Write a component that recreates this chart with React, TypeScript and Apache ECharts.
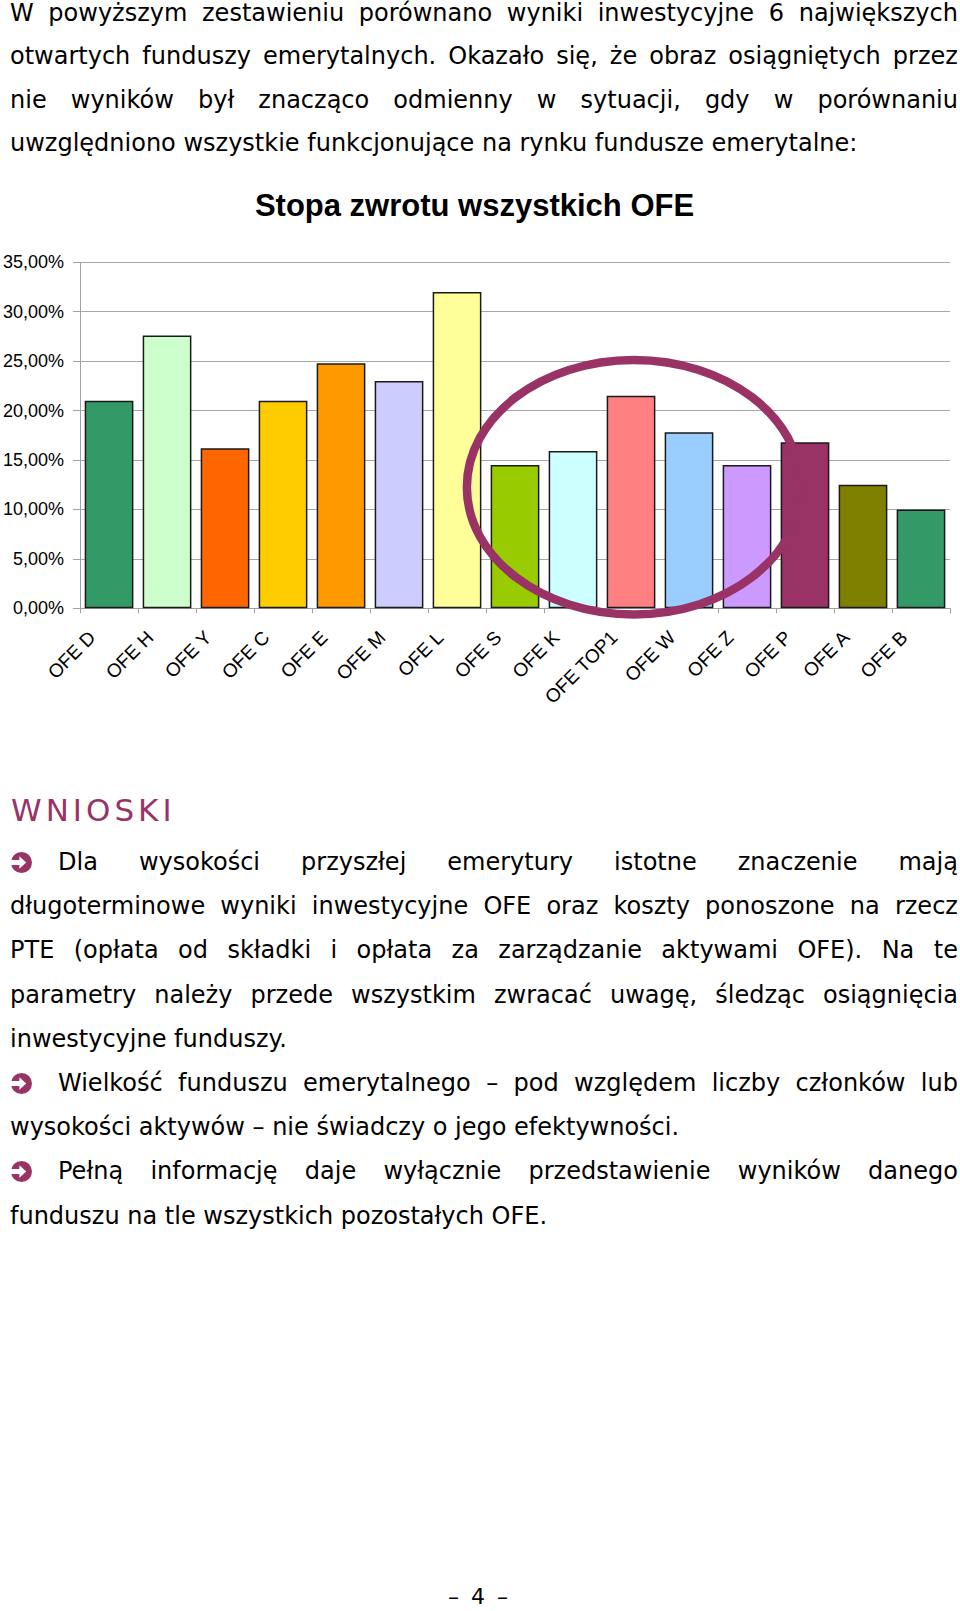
import React, { useEffect, useRef } from 'react';
import * as echarts from 'echarts';

// ---- chart data ----
const categories = ['OFE D', 'OFE H', 'OFE Y', 'OFE C', 'OFE E', 'OFE M', 'OFE L', 'OFE S', 'OFE K', 'OFE TOP1', 'OFE W', 'OFE Z', 'OFE P', 'OFE A', 'OFE B'];
const returnsPct = [21.0, 27.6, 16.2, 21.0, 24.8, 23.0, 32.0, 14.5, 15.9, 21.5, 17.8, 14.5, 16.8, 12.5, 10.0];
const barColors = ['#339966', '#CCFFCC', '#FF6600', '#FFCC00', '#FF9900', '#CCCCFF', '#FFFF99', '#99CC00', '#CCFFFF', '#FF8080', '#99CCFF', '#CC99FF', '#993366', '#808000', '#339966'];
const yMin = 0;
const yMax = 35;
const yStep = 5;
const chartTitle = 'Stopa zwrotu wszystkich OFE';
// highlight ellipse, in data units (category index / percent)
const ringCenterCategory = 'OFE TOP1';
const ringCenterShift = 0.05;
const ringCenterValue = 12.25;
const ringHalfWidthCats = 2.88;
const ringHalfHeightValue = 12.87;

// ---- page text ----
const introLines = [
  'W powyższym zestawieniu porównano wyniki inwestycyjne 6 największych',
  'otwartych funduszy emerytalnych. Okazało się, że obraz osiągniętych przez',
  'nie wyników był znacząco odmienny w sytuacji, gdy w porównaniu',
  'uwzględniono wszystkie funkcjonujące na rynku fundusze emerytalne:',
];
const introJustified = [true, true, true, false];
const heading = 'WNIOSKI';
const bulletLines = [
  'Dla wysokości przyszłej emerytury istotne znaczenie mają',
  'długoterminowe wyniki inwestycyjne OFE oraz koszty ponoszone na rzecz',
  'PTE (opłata od składki i opłata za zarządzanie aktywami OFE). Na te',
  'parametry należy przede wszystkim zwracać uwagę, śledząc osiągnięcia',
  'inwestycyjne funduszy.',
  'Wielkość funduszu emerytalnego – pod względem liczby członków lub',
  'wysokości aktywów – nie świadczy o jego efektywności.',
  'Pełną informację daje wyłącznie przedstawienie wyników danego',
  'funduszu na tle wszystkich pozostałych OFE.',
];
const bulletJustified = [true, true, true, true, false, true, false, true, false];
const bulletStarts = [true, false, false, false, false, true, false, true, false];
const pageNumber = '– 4 –';

const BODY_FONT = '"DejaVu Sans", Verdana, sans-serif';
const CHART_FONT = '"Liberation Sans", Arial, sans-serif';
const PURPLE = '#993366';

const CHART_TOP = 170;
const CHART_H = 550;

function Line(props: { text: string; left: number; right: number; cy: number; justify: boolean }) {
  const { text, left, right, cy, justify } = props;
  const words = text.split(' ');
  return (
    <div
      style={{
        position: 'absolute',
        left,
        width: right - left,
        top: cy - 22,
        height: 44,
        lineHeight: '44px',
        fontFamily: BODY_FONT,
        fontSize: 24,
        color: '#000',
        whiteSpace: 'pre',
        display: justify ? 'flex' : 'block',
        justifyContent: 'space-between',
      }}
    >
      {justify ? words.map((w, i) => <span key={i}>{w}</span>) : text}
    </div>
  );
}

function Bullet(props: { cy: number }) {
  return (
    <svg
      width={21}
      height={21}
      viewBox="0 0 20 20"
      style={{ position: 'absolute', left: 11, top: props.cy - 10.5 }}
    >
      <circle cx={10} cy={10} r={10} fill={PURPLE} />
      <rect x={-1} y={7.6} width={9.5} height={4.8} fill="#fff" />
      <polygon points="8,4 14.5,10 8,16" fill="#fff" />
    </svg>
  );
}

function Chart() {
  const ref = useRef<HTMLDivElement>(null);
  useEffect(() => {
    if (!ref.current) return;
    const chart = echarts.init(ref.current, null, { renderer: 'svg' });
    chart.setOption({
      animation: false,
      backgroundColor: 'transparent',
      grid: { left: 80, right: 10, top: 262.3 - CHART_TOP, bottom: CHART_TOP + CHART_H - 608.3, containLabel: false },
      xAxis: {
        type: 'category',
        data: categories,
        axisLine: { show: true, lineStyle: { color: '#a0a0a0', width: 1 } },
        axisTick: { show: true, length: 5, interval: 0, lineStyle: { color: '#a0a0a0' } },
        axisLabel: {
          interval: 0,
          rotate: 45,
          fontSize: 19,
          color: '#000',
          fontFamily: CHART_FONT,
          margin: 9,
          padding: [0, 24, 0, 0],
        },
        splitLine: { show: false },
      },
      yAxis: {
        type: 'value',
        min: yMin,
        max: yMax,
        interval: yStep,
        axisLine: { show: true, lineStyle: { color: '#a0a0a0', width: 1 } },
        axisTick: { show: true, length: 7, lineStyle: { color: '#a0a0a0' } },
        axisLabel: {
          fontSize: 18,
          color: '#000',
          fontFamily: CHART_FONT,
          margin: 16,
          formatter: (v: number) => v.toFixed(2).replace('.', ',') + '%',
        },
        splitLine: { show: true, lineStyle: { color: '#a8a8a8', width: 1 } },
      },
      series: [
        {
          type: 'bar',
          data: returnsPct.map((v, i) => ({ value: v, itemStyle: { color: barColors[i] } })),
          barCategoryGap: '16%',
          itemStyle: { borderColor: '#1a1a1a', borderWidth: 1.5 },
        },
      ],
    });
    const idx = categories.indexOf(ringCenterCategory);
    const x0 = chart.convertToPixel({ xAxisIndex: 0 }, idx) as number;
    const x1 = chart.convertToPixel({ xAxisIndex: 0 }, idx + 1) as number;
    const cw = x1 - x0;
    const cy = chart.convertToPixel({ yAxisIndex: 0 }, ringCenterValue) as number;
    const yZero = chart.convertToPixel({ yAxisIndex: 0 }, 0) as number;
    const yH = chart.convertToPixel({ yAxisIndex: 0 }, ringHalfHeightValue) as number;
    chart.setOption({
      graphic: [
        {
          id: 'title',
          type: 'text',
          x: 474.5,
          y: 205.6 - CHART_TOP,
          style: {
            text: chartTitle,
            fontSize: 31,
            fontWeight: 'bold',
            fontFamily: CHART_FONT,
            fill: '#000',
            textAlign: 'center',
            textVerticalAlign: 'middle',
          },
        },
        {
          id: 'ring',
          type: 'ellipse',
          silent: true,
          z: 100,
          shape: { cx: x0 + ringCenterShift * cw, cy, rx: ringHalfWidthCats * cw, ry: yZero - yH },
          style: { fill: 'none', stroke: PURPLE, lineWidth: 8.5 },
        },
      ],
    });
    return () => chart.dispose();
  }, []);
  return <div ref={ref} style={{ position: 'absolute', left: 0, top: CHART_TOP, width: 960, height: CHART_H }} />;
}

export default function App() {
  const introY0 = 12.5;
  const introStep = 43.6;
  const bulY0 = 862;
  const bulStep = 44.2;
  return (
    <div style={{ position: 'absolute', left: 0, top: 0, width: 960, height: 1611, background: '#fff', overflow: 'hidden' }}>
      {introLines.map((t, i) => (
        <Line key={'i' + i} text={t} left={10} right={958} cy={introY0 + i * introStep} justify={introJustified[i]} />
      ))}
      <Chart />
      <div
        style={{
          position: 'absolute',
          left: 11,
          top: 810 - 22,
          height: 44,
          lineHeight: '44px',
          fontFamily: BODY_FONT,
          fontSize: 31,
          letterSpacing: '4px',
          color: PURPLE,
          whiteSpace: 'pre',
        }}
      >
        {heading}
      </div>
      {bulletLines.map((t, i) => {
        const cy = bulY0 + i * bulStep;
        const hasBullet = bulletStarts[i];
        return (
          <React.Fragment key={'b' + i}>
            {hasBullet && <Bullet cy={cy} />}
            <Line text={t} left={hasBullet ? 58 : 10} right={958} cy={cy} justify={bulletJustified[i]} />
          </React.Fragment>
        );
      })}
      <div
        style={{
          position: 'absolute',
          left: 378,
          width: 200,
          textAlign: 'center',
          top: 1584,
          height: 26,
          lineHeight: '26px',
          fontFamily: BODY_FONT,
          fontSize: 22,
          wordSpacing: '5px',
          color: '#000',
          whiteSpace: 'pre',
        }}
      >
        {pageNumber}
      </div>
    </div>
  );
}
